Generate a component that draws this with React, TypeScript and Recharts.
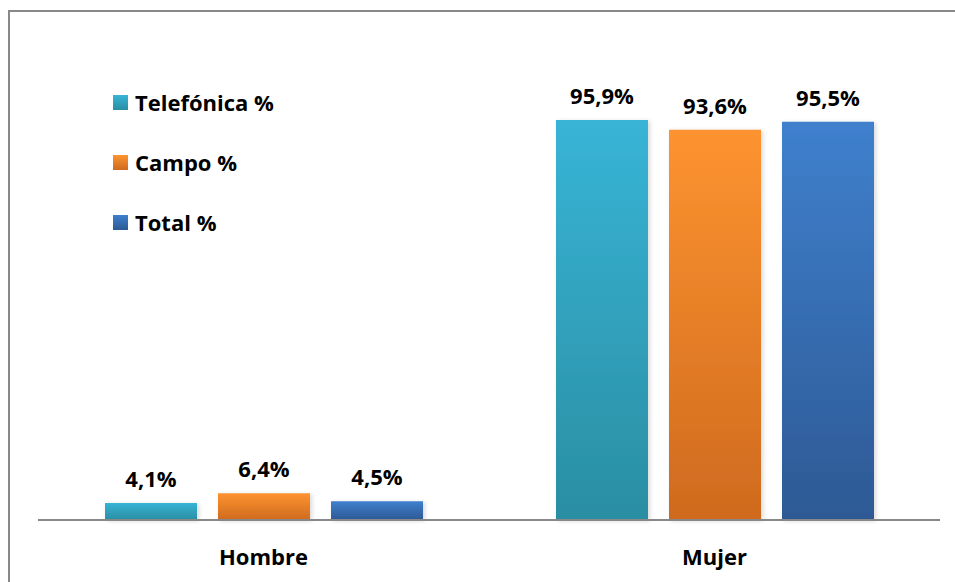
import { BarChart, Bar, XAxis, YAxis, LabelList } from 'recharts';

const categories = ['Hombre', 'Mujer'];
const telefonica = [4.1, 95.9];
const campo = [6.4, 93.6];
const total = [4.5, 95.5];

const seriesNames = ['Telefónica %', 'Campo %', 'Total %'];
const seriesKeys = ['telefonica', 'campo', 'total'];
const gradients = [
  { id: 'gTel', top: '#38b4d6', bottom: '#2a8ea2' },
  { id: 'gCampo', top: '#fd9330', bottom: '#cf6a1e' },
  { id: 'gTotal', top: '#3f80cd', bottom: '#2d5994' },
];

const data = categories.map((name, i) => ({
  name,
  telefonica: telefonica[i],
  campo: campo[i],
  total: total[i],
}));

const FONT = '"Open Sans", sans-serif';
const FS = 22;
const fmt = (v: number) => `${v.toFixed(1).replace('.', ',')}%`;

function LegendBox() {
  return (
    <div
      style={{
        position: 'absolute',
        left: 113,
        top: 72,
        fontFamily: FONT,
        fontWeight: 700,
        fontSize: FS,
        color: '#000',
      }}
    >
      {seriesNames.map((n, i) => (
        <div key={n} style={{ display: 'flex', alignItems: 'center', height: 60 }}>
          <span
            style={{
              width: 15,
              height: 15,
              marginRight: 7,
              background: `linear-gradient(${gradients[i].top}, ${gradients[i].bottom})`,
            }}
          />
          {n}
        </div>
      ))}
    </div>
  );
}

export default function App() {
  return (
    <div style={{ position: 'absolute', left: 0, top: 0, width: 955, height: 582, background: '#fff', overflow: 'hidden' }}>
      <div
        style={{
          position: 'absolute',
          left: 8,
          top: 10,
          width: 960,
          height: 600,
          borderTop: '2px solid #888',
          borderLeft: '2px solid #888',
        }}
      />
      <BarChart
        width={955}
        height={582}
        data={data}
        margin={{ top: 103, right: 15, left: 38, bottom: 12 }}
        barCategoryGap={67}
        barGap={21}
        style={{ position: 'absolute', left: 0, top: 0 }}
      >
        <defs>
          {gradients.map((g) => (
            <linearGradient key={g.id} id={g.id} x1="0" y1="0" x2="0" y2="1">
              <stop offset="0%" stopColor={g.top} />
              <stop offset="100%" stopColor={g.bottom} />
            </linearGradient>
          ))}
          <filter id="shadow" x="-10%" y="-10%" width="130%" height="130%">
            <feDropShadow dx="2" dy="1" stdDeviation="2" floodColor="#000" floodOpacity="0.15" />
          </filter>
        </defs>
        <XAxis
          dataKey="name"
          height={50}
          axisLine={{ stroke: '#888', strokeWidth: 2 }}
          tickLine={false}
          tickMargin={23}
          tick={{ fontFamily: FONT, fontWeight: 700, fontSize: FS, fill: '#000' }}
        />
        <YAxis hide domain={[0, 100]} />
        {seriesKeys.map((k, i) => (
          <Bar
            key={k}
            dataKey={k}
            name={seriesNames[i]}
            fill={`url(#${gradients[i].id})`}
            filter="url(#shadow)"
            isAnimationActive={false}
          >
            <LabelList
              dataKey={k}
              position="top"
              offset={16}
              formatter={(v: number) => fmt(v)}
              style={{ fontFamily: FONT, fontWeight: 700, fontSize: FS, fill: '#000' }}
            />
          </Bar>
        ))}
      </BarChart>
      <LegendBox />
    </div>
  );
}
